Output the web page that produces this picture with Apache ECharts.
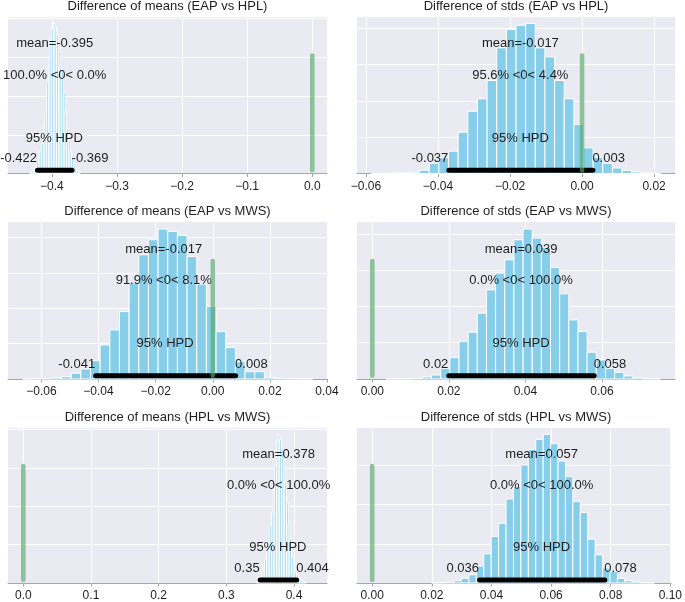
<!DOCTYPE html>
<html><head><meta charset="utf-8">
<script src="https://cdn.jsdelivr.net/npm/echarts@6/dist/echarts.min.js"></script>
<style>html,body{margin:0;padding:0;background:#fff}#c{width:685px;height:602px}</style>
</head><body><div id="c"></div>
<script>
// ---------- data ----------
const titles = [
  'Difference of means (EAP vs HPL)', 'Difference of stds (EAP vs HPL)',
  'Difference of means (EAP vs MWS)', 'Difference of stds (EAP vs MWS)',
  'Difference of means (HPL vs MWS)', 'Difference of stds (HPL vs MWS)'
];
// histogram counts (30 bins each)
const countsMeansEAPvsHPL = [44,59,129,173,302,406,602,775,1248,1594,2370,2791,3488,3747,3876,3791,3566,3230,2791,2628,2111,1594,1163,860,561,388,258,147,85,44];
const countsStdsEAPvsHPL  = [0,6,11,22,36,91,276,433,614,1138,1716,2058,2562,3463,3967,4086,4133,3463,3215,2562,2058,1350,708,441,276,152,83,41,14,6];
const countsMeansEAPvsMWS = [0,8,14,37,65,161,283,518,963,1388,1907,2711,3513,3938,4241,4173,4060,3465,2683,2048,1340,887,490,207,207,48,20,8,6,3];
const countsStdsEAPvsMWS  = [3,3,6,19,55,110,296,588,1030,1290,1815,2458,2919,3287,3839,4135,3886,3627,3074,2348,1630,1306,737,525,296,185,83,36,8,3];
const countsMeansHPLvsMWS = [59,85,173,258,432,602,860,1119,1506,1853,2540,3057,3703,3876,3747,3488,3145,2628,2111,1594,1163,690,473,302,214,147,85,59,44,26];
const countsStdsHPLvsMWS  = [3,8,20,59,120,211,433,746,1189,1519,2145,2461,3011,3410,3665,3792,3555,3113,2716,2079,1799,1120,720,382,298,120,59,33,8,3];
const allCounts = [countsMeansEAPvsHPL, countsStdsEAPvsHPL, countsMeansEAPvsMWS, countsStdsEAPvsMWS, countsMeansHPLvsMWS, countsStdsHPLvsMWS];
// bin layout
const binStart = [-0.4336, -0.0585, -0.0665, 0.00352, 0.3447, 0.0200];
const binWidth = [0.00256, 0.002677, 0.003383, 0.002392, 0.00246, 0.00249];
// summary statistics
const meanValues = [-0.395, -0.017, -0.017, 0.039, 0.378, 0.057];
const meanLabels = ['-0.395', '-0.017', '-0.017', '0.039', '0.378', '0.057'];
const refTexts = ['100.0% <0< 0.0%', '95.6% <0< 4.4%', '91.9% <0< 8.1%', '0.0% <0< 100.0%', '0.0% <0< 100.0%', '0.0% <0< 100.0%'];
const hpdLow = [-0.422, -0.037, -0.041, 0.02, 0.35, 0.036];
const hpdHigh = [-0.369, 0.003, 0.008, 0.058, 0.404, 0.078];
const refValue = 0;
// axes
const xTicks = [
  [-0.4, -0.3, -0.2, -0.1, 0],
  [-0.06, -0.04, -0.02, 0, 0.02],
  [-0.06, -0.04, -0.02, 0, 0.02, 0.04],
  [0, 0.02, 0.04, 0.06],
  [0, 0.1, 0.2, 0.3, 0.4],
  [0, 0.02, 0.04, 0.06, 0.08, 0.1]
];
const tickDecimals = [1, 2, 2, 2, 1, 2];
const xRange = [[-0.4674, 0.0226], [-0.0625, 0.0258], [-0.0717, 0.0400], [-0.0040, 0.0791], [-0.0226, 0.4488], [-0.0051, 0.1002]];
const yGridStep = 1000;

// ---------- layout / style ----------
const FONT = '"Liberation Sans", Arial, sans-serif';
const TXT = '#1e1e1e';
const colLeft = [8, 357], colWidth = [319, 318];
const rowTop = [16, 221.5, 427], plotH = 157.5;
const titleTop = [0, 205, 411];

const grids = [], xAxes = [], yAxes = [], series = [], titleOpts = [];
for (let i = 0; i < 6; i++) {
  const r = Math.floor(i / 2), c = i % 2;
  const counts = allCounts[i];
  const yMax = Math.max(...counts) * 1.05;
  grids.push({ left: colLeft[c], top: rowTop[r], width: colWidth[c], height: plotH,
    show: true, backgroundColor: '#EAEAF2', borderWidth: 0, containLabel: false });
  titleOpts.push({ text: titles[i], left: colLeft[c] + colWidth[c] / 2, top: titleTop[r], textAlign: 'center', padding: 0,
    textStyle: { fontSize: 13, fontWeight: 'normal', color: TXT, fontFamily: FONT, lineHeight: 13 } });
  const dec = tickDecimals[i];
  xAxes.push({ type: 'value', gridIndex: i, min: xRange[i][0], max: xRange[i][1],
    axisLine: { show: true, onZero: false, lineStyle: { color: '#a6a6a6', width: 1 } },
    axisTick: { show: true, length: 3.5, customValues: xTicks[i], lineStyle: { color: '#a6a6a6', width: 1 } },
    axisLabel: { customValues: xTicks[i], fontSize: 12, color: TXT, fontFamily: FONT, margin: 7,
      formatter: v => v.toFixed(dec).replace('-', '\u2212') },
    splitLine: { show: true, lineStyle: { color: '#ffffff', width: 1 } } });
  yAxes.push({ type: 'value', gridIndex: i, min: 0, max: yMax, interval: yGridStep,
    axisLine: { show: false }, axisTick: { show: false }, axisLabel: { show: false },
    splitLine: { show: true, lineStyle: { color: '#ffffff', width: 1 } } });

  const histData = counts.map((n, k) => [binStart[i] + k * binWidth[i], binStart[i] + (k + 1) * binWidth[i], n]);
  series.push({ type: 'custom', xAxisIndex: i, yAxisIndex: i, silent: true, data: histData,
    encode: { x: [0, 1], y: 2 },
    renderItem: (params, api) => {
      const p0 = api.coord([api.value(0), api.value(2)]);
      const p1 = api.coord([api.value(1), 0]);
      return { type: 'rect', shape: { x: p0[0], y: p0[1], width: p1[0] - p0[0], height: p1[1] - p0[1] },
        style: { fill: '#87CEEB', stroke: '#ffffff', lineWidth: 1 } };
    } });
  // HPD bar
  series.push({ type: 'line', xAxisIndex: i, yAxisIndex: i, silent: true, symbol: 'none',
    data: [[hpdLow[i], 0.02 * yMax], [hpdHigh[i], 0.02 * yMax]],
    lineStyle: { color: '#000000', width: 5, cap: 'round' } });
  // reference line
  series.push({ type: 'line', xAxisIndex: i, yAxisIndex: i, silent: true, symbol: 'none',
    data: [[refValue, 0.02 * yMax], [refValue, 0.75 * yMax]],
    lineStyle: { color: 'rgba(85,168,104,0.65)', width: 4.5, cap: 'round' } });
  // texts
  const mk = (x, y, text, align) => ({ name: text, value: [x, y], label: { align: align } });
  series.push({ type: 'scatter', xAxisIndex: i, yAxisIndex: i, silent: true, symbolSize: 1,
    itemStyle: { color: 'rgba(0,0,0,0)' },
    label: { show: true, formatter: '{b}', position: [0, 0], verticalAlign: 'bottom', offset: [0, 3],
      fontSize: 13, color: TXT, fontFamily: FONT, lineHeight: 13,
      textBorderWidth: 0, textBorderColor: 'transparent', opacity: 1 },
    data: [
      mk(meanValues[i], 0.8 * yMax, 'mean=' + meanLabels[i], 'center'),
      mk(meanValues[i], 0.6 * yMax, refTexts[i], 'center'),
      mk((hpdLow[i] + hpdHigh[i]) / 2, 0.2 * yMax, '95% HPD', 'center'),
      mk(hpdLow[i], 0.07 * yMax, String(hpdLow[i]), 'right'),
      mk(hpdHigh[i], 0.07 * yMax, String(hpdHigh[i]), 'left')
    ] });
}

const chart = echarts.init(document.getElementById('c'), null, { renderer: 'canvas' });
chart.setOption({ animation: false, backgroundColor: '#ffffff', title: titleOpts,
  grid: grids, xAxis: xAxes, yAxis: yAxes, series: series });
</script></body></html>
